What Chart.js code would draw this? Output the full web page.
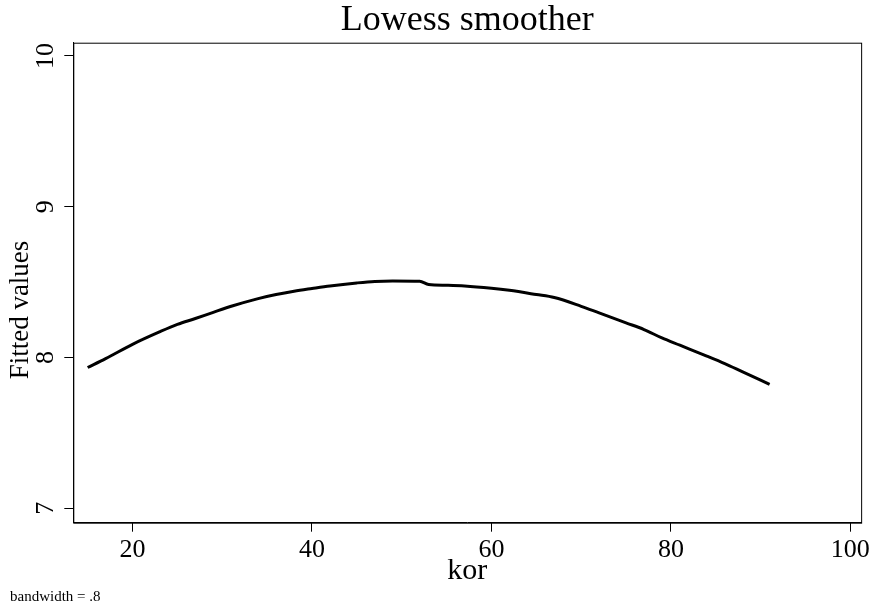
<!DOCTYPE html>
<html>
<head>
<meta charset="utf-8">
<script src="https://cdn.jsdelivr.net/npm/chart.js@4"></script>
<style>
  html, body { margin: 0; padding: 0; background: #fff; }
  #wrap { width: 873px; height: 611px; position: relative; }
</style>
</head>
<body>
<div id="wrap"><canvas id="lowessChart"></canvas></div>
<script>
// age (kor) and lowess fitted values
const korValues = [15, 17, 20, 23, 25, 27, 29, 31, 34, 36, 38, 40, 42, 45, 47, 49, 52, 53,
    55, 57, 60, 62, 65, 67, 70, 72, 75, 77, 79, 81, 84, 86, 88, 91];
const fittedValues = [7.934, 7.993, 8.088, 8.17, 8.22, 8.259, 8.30, 8.34, 8.391, 8.418, 8.44,
    8.458, 8.475, 8.495, 8.505, 8.508, 8.506, 8.484, 8.479, 8.475, 8.46, 8.446, 8.418, 8.398,
    8.34, 8.296, 8.23, 8.186, 8.13, 8.082, 8.01, 7.96, 7.905, 7.823];
const xTicks = [20, 40, 60, 80, 100];
const yTicks = [7, 8, 9, 10];

const serif = "'Liberation Serif', 'Times New Roman', serif";

// full box round the plot region, the titles and the note
const framePlugin = {
    id: 'frame',
    afterDraw(chart) {
        const { ctx, chartArea: a } = chart;
        ctx.save();
        ctx.strokeStyle = '#000';
        ctx.lineWidth = 1;
        ctx.strokeRect(a.left + 0.5, a.top + 0.5, a.right - a.left, a.bottom - a.top);
        ctx.fillStyle = '#000';
        ctx.textAlign = 'center';
        ctx.textBaseline = 'middle';
        ctx.font = '36px ' + serif;
        ctx.fillText('Lowess smoother', (a.left + a.right) / 2, 21);
        // y title sits a bit below the middle of the plot, as in the original
        ctx.save();
        ctx.translate(21, 310);
        ctx.rotate(-Math.PI / 2);
        ctx.font = '27px ' + serif;
        ctx.fillText('Fitted values', 0, 0);
        ctx.restore();
        ctx.textAlign = 'left';
        ctx.font = '15px ' + serif;
        ctx.fillText('bandwidth = .8', 10, 597);
        ctx.restore();
    },
};

new Chart(document.getElementById('lowessChart'), {
    type: 'line',
    data: {
        datasets: [
            {
                label: 'Fitted values',
                data: korValues.map((k, i) => ({ x: k, y: fittedValues[i] })),
                borderColor: '#000',
                borderWidth: 3,
                pointRadius: 0,
                cubicInterpolationMode: 'monotone',
                fill: false,
            },
        ],
    },
    options: {
        responsive: true,
        maintainAspectRatio: false,
        animation: false,
        layout: { padding: { top: 42.7, right: 9.7, bottom: 22, left: 0 } },
        plugins: {
            legend: { display: false },
            tooltip: { enabled: false },
            title: { display: false },
        },
        scales: {
            x: {
                type: 'linear',
                min: 13.4,
                max: 101.2,
                afterBuildTicks: (scale) => { scale.ticks = xTicks.map((v) => ({ value: v })); },
                afterFit: (scale) => { scale.height = 66.3; },
                ticks: { color: '#000', font: { family: serif, size: 26 }, padding: 3, maxRotation: 0 },
                grid: { drawOnChartArea: false, drawTicks: true, tickLength: 9, color: '#000' },
                border: { display: true, color: '#000' },
                title: { display: true, text: 'kor', color: '#000', font: { family: serif, size: 30 }, padding: { top: 0, bottom: 0 } },
            },
            y: {
                type: 'linear',
                min: 6.905,
                max: 10.088,
                afterBuildTicks: (scale) => { scale.ticks = yTicks.map((v) => ({ value: v })); },
                afterFit: (scale) => { scale.width = 73.3; },
                ticks: { color: '#000', font: { family: serif, size: 26 }, padding: 5.5, minRotation: 90, maxRotation: 90, crossAlign: 'center' },
                grid: { drawOnChartArea: false, drawTicks: true, tickLength: 9, color: '#000' },
                border: { display: true, color: '#000' },
                title: { display: false },
            },
        },
    },
    plugins: [framePlugin],
});
</script>
</body>
</html>
